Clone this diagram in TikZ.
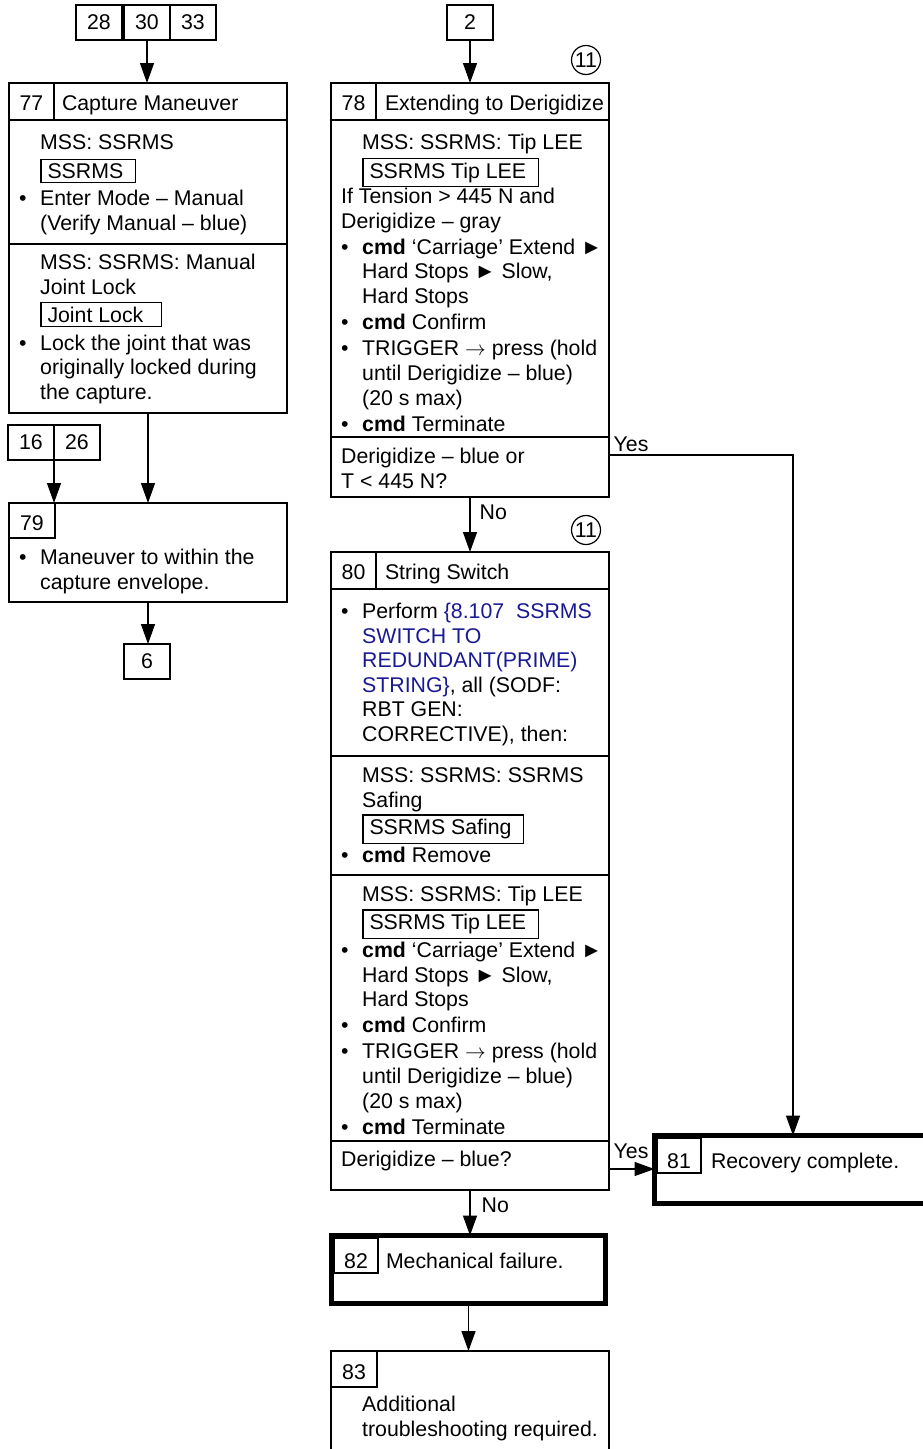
\documentclass[tikz,border=0pt]{standalone}
\usepackage{fontspec}
\setmainfont{Liberation Sans}
\usetikzlibrary{arrows.meta, positioning}
\definecolor{linkblue}{RGB}{25,25,145}
\setlength{\lineskiplimit}{-40pt}
\newcommand{\firstline}{\rule{0pt}{18pt}}
\newcommand{\bul}{\makebox[21pt][l]{\textbullet}}
\newcommand{\ind}{\hspace*{21pt}}
\newcommand{\goesto}{$\rightarrow$}
\newcommand{\panel}[1]{{\setlength{\fboxsep}{3.5pt}\setlength{\fboxrule}{1.3pt}\fbox{\hspace*{2.5pt}#1\hspace*{8pt}}}}

\begin{document}
\begin{tikzpicture}[
    x=1pt, y=-1pt,
    font=\fontsize{21.3}{24.5}\selectfont,
    stepbox/.style={rectangle, draw=black, line width=2pt, anchor=north west, inner sep=0pt, outer sep=0pt},
    endbox/.style={stepbox, line width=4.8pt},
    numcell/.style={rectangle, draw=black, line width=1.2pt, minimum width=45pt, minimum height=37pt, text height=18pt, text depth=0pt, anchor=north west, inner sep=0pt, outer sep=0pt},
    refbox/.style={rectangle, draw=black, line width=1.3pt, minimum width=46pt, minimum height=35pt, anchor=north west, inner sep=0pt, outer sep=0pt},
    body/.style={anchor=north west, align=left, inner sep=0pt},
    title/.style={inner sep=0pt, outer sep=0pt},
    badge/.style={circle, draw=black, line width=1.2pt, minimum size=29pt, inner sep=0pt},
    divider/.style={line width=1.6pt},
    arrow/.style={line width=1.4pt, -{Triangle[length=20pt, width=14pt]}},
    tag/.style={inner sep=0pt}
]
\useasboundingbox (0,0) rectangle (922,1449);

% Nodes
\node[refbox] (r28) at (76,5) {28};
\node[refbox, right=2pt of r28] (r30) {30};
\node[refbox, right=0pt of r30] (r33) {33};
\node[refbox] (r2) at (447,5) {2};

\node[badge] (c78) at (586,60) {11};
\node[badge] (c80) at (586,530) {11};

\node[stepbox, minimum width=278pt, minimum height=330pt] (b77) at (9,83) {};
\node[numcell] (n77) at (9,83) {77};
\node[title, base right=8pt of n77] (t77) {Capture Maneuver};
\node[body] (s77a) at (19,131.5) {\firstline\ind MSS: SSRMS\\[4pt]
  \ind\panel{SSRMS}\\[3pt]
  \bul Enter Mode – Manual\\
  \ind(Verify Manual – blue)};
\node[body] (s77b) at (19,251.5) {\firstline\ind MSS: SSRMS: Manual\\
  \ind Joint Lock\\[3.5pt]
  \ind\panel{Joint Lock\hspace*{6pt}}\\[3.5pt]
  \bul Lock the joint that was\\
  \ind originally locked during\\[0.5pt]
  \ind the capture.};

\node[refbox] (r16) at (8,425) {16};
\node[refbox, right=0pt of r16] (r26) {26};

\node[stepbox, minimum width=278pt, minimum height=99pt] (b79) at (9,503) {};
\node[numcell, minimum width=46pt, minimum height=35pt, text height=20pt] (n79) at (9,503) {79};
\node[body] (s79) at (19,546.5) {\firstline\bul Maneuver to within the\\
  \ind capture envelope.};

\node[refbox] (r6) at (124,644) {6};

\node[stepbox, minimum width=278pt, minimum height=414pt] (b78) at (331,83) {};
\node[numcell] (n78) at (331,83) {78};
\node[title, base right=9pt of n78] (t78) {Extending to Derigidize};
\node[body] (s78a) at (341,131.5) {\firstline\ind MSS: SSRMS: Tip LEE\\[4pt]
  \ind\panel{SSRMS Tip LEE}\\[1pt]
  If Tension > 445 N and\\
  Derigidize – gray\\[1.5pt]
  \bul\textbf{cmd} ‘Carriage’ Extend ►\\
  \ind Hard Stops ► Slow,\\[0.5pt]
  \ind Hard Stops\\[1.5pt]
  \bul\textbf{cmd} Confirm\\[1.5pt]
  \bul TRIGGER \goesto{} press (hold\\
  \ind until Derigidize – blue)\\[0.5pt]
  \ind (20 s max)\\[1.5pt]
  \bul\textbf{cmd} Terminate};
\node[body] (s78b) at (341,445.5) {\firstline Derigidize – blue or\\
  T < 445 N?};

\node[stepbox, minimum width=278pt, minimum height=638pt] (b80) at (331,552) {};
\node[numcell, minimum height=37pt] (n80) at (331,552) {80};
\node[title, base right=9pt of n80] (t80) {String Switch};
\node[body] (s80a) at (341,600.5) {\firstline\bul Perform \textcolor{linkblue}{\{8.107\ \ SSRMS}\\
  \ind\textcolor{linkblue}{SWITCH TO}\\
  \ind\textcolor{linkblue}{REDUNDANT(PRIME)}\\
  \ind\textcolor{linkblue}{STRING\}}, all (SODF:\\
  \ind RBT GEN:\\
  \ind CORRECTIVE), then:};
\node[body] (s80b) at (341,764.5) {\firstline\ind MSS: SSRMS: SSRMS\\
  \ind Safing\\[3pt]
  \ind\panel{SSRMS Safing}\\[3pt]
  \bul\textbf{cmd} Remove};
\node[body] (s80c) at (341,883.5) {\firstline\ind MSS: SSRMS: Tip LEE\\[3.5pt]
  \ind\panel{SSRMS Tip LEE}\\[3.5pt]
  \bul\textbf{cmd} ‘Carriage’ Extend ►\\
  \ind Hard Stops ► Slow,\\
  \ind Hard Stops\\[1.5pt]
  \bul\textbf{cmd} Confirm\\[1.5pt]
  \bul TRIGGER \goesto{} press (hold\\[0.5pt]
  \ind until Derigidize – blue)\\
  \ind (20 s max)\\[1.5pt]
  \bul\textbf{cmd} Terminate};
\node[body] (s80d) at (341,1148.5) {\firstline Derigidize – blue?};

\node[endbox, minimum width=290pt, minimum height=68pt] (b81) at (654.5,1135.5) {};
\node[numcell, minimum width=44pt, minimum height=35pt, text height=25pt] (n81) at (657,1138) {81};
\node[title, base right=10pt of n81] (t81) {Recovery complete.};

\node[endbox, minimum width=274pt, minimum height=68pt] (b82) at (331.5,1235.5) {};
\node[numcell, minimum width=44pt, minimum height=35pt, text height=25pt] (n82) at (334,1238) {82};
\node[title, base right=8pt of n82] (t82) {Mechanical failure.};

\node[stepbox, minimum width=278pt, minimum height=130pt] (b83) at (331,1351) {};
\node[numcell, minimum width=46pt, minimum height=36pt, text height=21pt] (n83) at (331,1351) {83};
\node[body] (s83) at (341,1393.5) {\firstline\ind Additional\\
  \ind troubleshooting required.};

\coordinate (yesturn) at (793,455);
\coordinate (yesrow) at (631,1169);

% Dividers
\draw[divider] (b77.west |- 0,120) -- (b77.east |- 0,120);
\draw[divider] (b77.west |- 0,244) -- (b77.east |- 0,244);
\draw[divider] (b78.west |- 0,120) -- (b78.east |- 0,120);
\draw[divider] (b78.west |- 0,437) -- (b78.east |- 0,437);
\draw[divider] (b80.west |- 0,589) -- (b80.east |- 0,589);
\draw[divider] (b80.west |- 0,756) -- (b80.east |- 0,756);
\draw[divider] (b80.west |- 0,875) -- (b80.east |- 0,875);
\draw[divider] (b80.west |- 0,1141) -- (b80.east |- 0,1141);

% Arrows
\draw[arrow] (r30.south) -- (r30.south |- b77.north);
\draw[arrow] (b77.south) -- (b79.north);
\draw[arrow] (r16.south east) -- (r16.south east |- b79.north);
\draw[arrow] (b79.south) -- (b79.south |- r6.north);

\draw[arrow] (r2) -- (b78);
\draw[arrow] (b78) -- node[tag, pos=0.28, anchor=west, xshift=9pt] {No} (b80);
\draw[arrow] (yesturn -| b78.east) -- node[tag, pos=0, anchor=base west, xshift=4pt, yshift=4pt] {Yes} (yesturn) -- (yesturn |- b81.north);
\draw[arrow] (yesrow -| b80.east) -- node[tag, pos=0, anchor=base west, xshift=4pt, yshift=11pt] {Yes} (yesrow -| b81.west);
\draw[arrow] (b80.south) -- node[tag, pos=0.34, anchor=west, xshift=11pt] {No} (b80.south |- b82.north);
\draw[arrow] (b82.south) -- (b82.south |- b83.north);

\end{tikzpicture}
\end{document}
